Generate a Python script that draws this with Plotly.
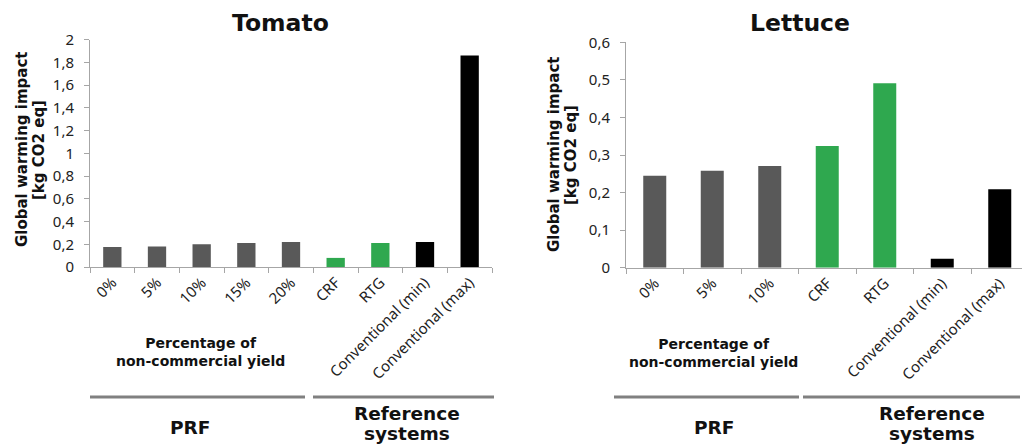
import plotly.graph_objects as go

# ---- data -------------------------------------------------------------
tomato_cats = ["0%", "5%", "10%", "15%", "20%", "CRF", "RTG",
               "Conventional (min)", "Conventional (max)"]
tomato_vals = [0.175, 0.18, 0.20, 0.21, 0.22, 0.08, 0.21, 0.22, 1.86]

lettuce_cats = ["0%", "5%", "10%", "CRF", "RTG",
                "Conventional (min)", "Conventional (max)"]
lettuce_vals = [0.245, 0.258, 0.271, 0.324, 0.491, 0.024, 0.209]

tomato_groups = ["PRF"] * 5 + ["Reference"] * 2 + ["Conventional"] * 2
lettuce_groups = ["PRF"] * 3 + ["Reference"] * 2 + ["Conventional"] * 2

tomato_yticks = [0, 0.2, 0.4, 0.6, 0.8, 1, 1.2, 1.4, 1.6, 1.8, 2]
tomato_ytext = ["0", "0,2", "0,4", "0,6", "0,8", "1", "1,2", "1,4", "1,6", "1,8", "2"]
lettuce_yticks = [0, 0.1, 0.2, 0.3, 0.4, 0.5, 0.6]
lettuce_ytext = ["0", "0,1", "0,2", "0,3", "0,4", "0,5", "0,6"]

# ---- styling ----------------------------------------------------------
W, H = 1022, 446
GROUP_COLORS = {"PRF": "#595959", "Reference": "#2fa84f", "Conventional": "#000000"}
FONT = "DejaVu Sans"
TICK_FONT = "Noto Sans"
AXIS_GREY = "#a6a6a6"


def px(x):
    return x / W


def py(y):
    return 1 - y / H


fig = go.Figure()

fig.add_trace(go.Bar(
    x=tomato_cats, y=tomato_vals, width=0.41,
    marker=dict(color=[GROUP_COLORS[g] for g in tomato_groups], line=dict(width=0)),
    xaxis="x", yaxis="y", showlegend=False,
))
fig.add_trace(go.Bar(
    x=lettuce_cats, y=lettuce_vals, width=0.40,
    marker=dict(color=[GROUP_COLORS[g] for g in lettuce_groups], line=dict(width=0)),
    xaxis="x2", yaxis="y2", showlegend=False,
))

xaxis_common = dict(
    type="category", showline=True, linecolor=AXIS_GREY, linewidth=1,
    ticks="outside", tickson="boundaries", ticklen=5, tickcolor=AXIS_GREY,
    tickangle=-45, tickfont=dict(family=TICK_FONT, size=15, color="#222222"),
    showgrid=False, zeroline=False, fixedrange=True, automargin=False,
)
yaxis_common = dict(
    showline=True, linecolor=AXIS_GREY, linewidth=1,
    ticks="outside", ticklen=5, tickcolor=AXIS_GREY,
    tickfont=dict(family=TICK_FONT, size=15, color="#222222"),
    showgrid=False, zeroline=False, ticklabelstandoff=7, automargin=False,
)

fig.update_layout(
    width=W, height=H,
    margin=dict(l=0, r=0, t=0, b=0, pad=0, autoexpand=False),
    paper_bgcolor="white", plot_bgcolor="white",
    xaxis=dict(xaxis_common, domain=[px(90), px(492)], anchor="y",
               range=[-0.5, 8.5]),
    yaxis=dict(yaxis_common, domain=[py(267), py(39.5)], anchor="x",
               range=[0, 2], tickvals=tomato_yticks, ticktext=tomato_ytext),
    xaxis2=dict(xaxis_common, domain=[px(626), 1.0], anchor="y2",
                range=[-0.5, -0.5 + (W - 626) / 57.5]),
    yaxis2=dict(yaxis_common, domain=[py(267.7), py(42.3)], anchor="x2",
                range=[0, 0.6], tickvals=lettuce_yticks, ticktext=lettuce_ytext),
)

annotations = []


def text(x, y, s, size, bold=True, angle=0):
    annotations.append(dict(
        x=px(x), y=py(y), xref="paper", yref="paper", text=f"<b>{s}</b>" if bold else s,
        showarrow=False, xanchor="center", yanchor="middle", textangle=angle,
        font=dict(family=FONT, size=size, color="#111111"),
    ))


# panel titles
text(280, 23, "Tomato", 23.5)
text(800, 23, "Lettuce", 23.5)

# y axis titles (two rotated lines each)
text(22, 150, "Global warming impact", 15, angle=-90)
text(39, 150, "[kg CO2 eq]", 15, angle=-90)
text(554, 155, "Global warming impact", 15, angle=-90)
text(571, 155, "[kg CO2 eq]", 15, angle=-90)

# group captions below the axes
text(200, 352, "Percentage of<br>non-commercial yield", 14)
text(713, 353, "Percentage of<br>non-commercial yield", 14)
text(190, 427, "PRF", 18.5)
text(714, 427, "PRF", 18.5)
for cx in (407, 932):
    text(cx, 413, "Reference", 18.5)
    text(cx, 433, "systems", 18.5)

fig.update_layout(annotations=annotations)

# bracket lines grouping the categories
for x0, x1 in [(90, 305), (313, 494), (614, 799), (803, 1020)]:
    fig.add_shape(type="line", xref="paper", yref="paper",
                  x0=px(x0), x1=px(x1), y0=py(397), y1=py(397),
                  line=dict(color="#808080", width=3))

fig.write_html("out.html")
